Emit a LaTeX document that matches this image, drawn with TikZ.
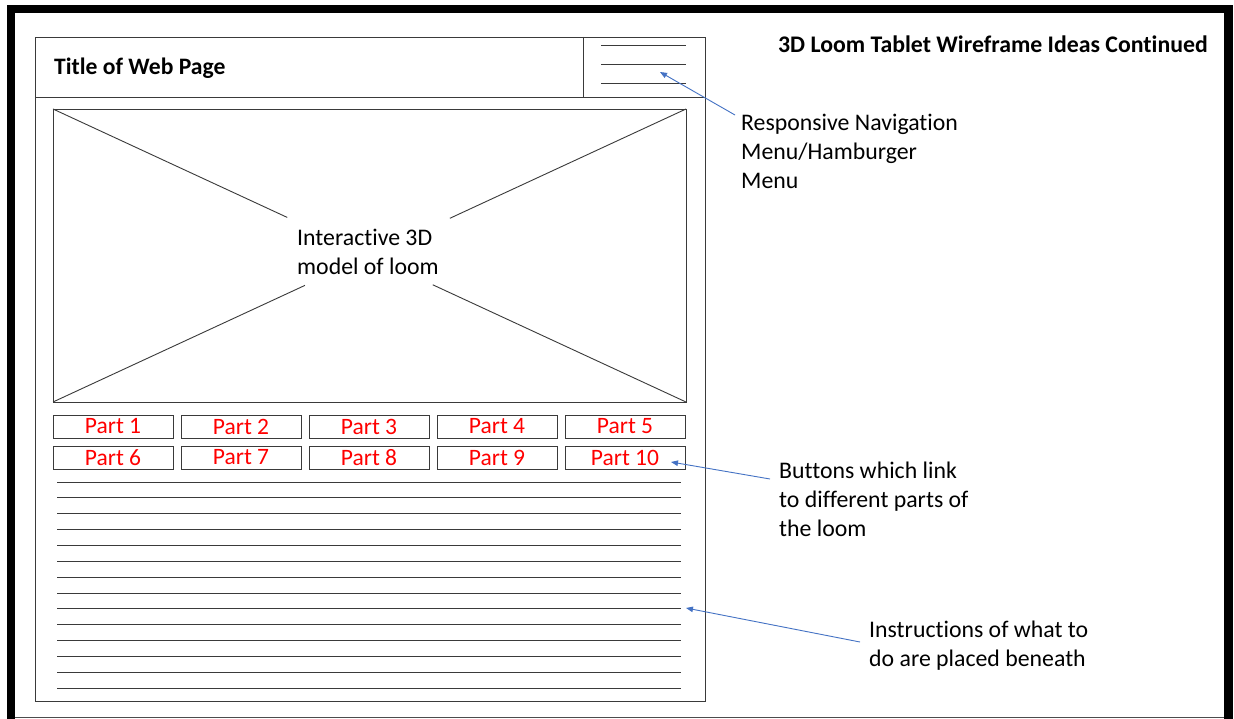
\documentclass[tikz,border=0pt]{standalone}
\usepackage{fontspec}
\setmainfont{Carlito}[Ligatures=NoCommon]
\usetikzlibrary{arrows.meta,calc}
\definecolor{wire}{HTML}{3A3A3A}
\definecolor{callout}{HTML}{4472C4}
\definecolor{partred}{HTML}{FF0000}
\begin{document}
\begin{tikzpicture}[x=1pt,y=-1pt,
  wireline/.style={draw=wire,line width=0.9pt},
  partbtn/.style={draw=wire,line width=0.9pt,minimum width=120pt,minimum height=23pt,
    inner sep=0pt,text=partred,font=\fontsize{23.5}{26}\selectfont},
  note/.style={align=left,anchor=north west,inner sep=0pt,font=\fontsize{23.8}{29}\selectfont},
  pointer/.style={draw=callout,line width=0.9pt,-{Triangle[length=7pt,width=5.5pt]}}]
\useasboundingbox (0,0) rectangle (1234,719);
\fill[white] (0,0) rectangle (1234,719);
% dark screen frame
\fill[black] (7,5) rectangle (1233,13);
\fill[black] (7,5) rectangle (15,719);
\fill[black] (1224,5) rectangle (1233,719);
\draw[black!70,line width=1pt] (15,717) -- (1224,717);

% page outline and header
\draw[wireline] (35,37) rectangle (705,701);
\draw[wireline] (35,97) -- (705,97);
\draw[wireline] (583,37) -- (583,97);
\node[anchor=west,inner sep=0pt,font=\fontsize{23.6}{26}\selectfont\bfseries] (title) at (54,68) {Title of Web Page};
\foreach \y in {45,64,83} \draw[wireline] (601,\y) -- (686,\y);
\coordinate (burger) at (660,72);

% 3D model placeholder
\coordinate (tl) at (53,109);
\coordinate (tr) at (686,109);
\coordinate (bl) at (53,402);
\coordinate (br) at (686,402);
\draw[wireline] (tl) rectangle (br);
\draw[wireline] (tl) -- ($(tl)!0.37!(br)$);
\draw[wireline] (tr) -- ($(tr)!0.373!(bl)$);
\draw[wireline] (bl) -- ($(bl)!0.398!(tr)$);
\draw[wireline] (br) -- ($(br)!0.40!(tl)$);
\node[align=left,anchor=west,inner sep=0pt,font=\fontsize{23.8}{29}\selectfont] (model) at (297,252) {Interactive 3D\\model of loom};

% part buttons
\foreach \i in {1,...,5} {
  \node[partbtn] (p\i) at ({113+128*(\i-1)},426.5) {Part \i};
}
\foreach \i in {6,...,10} {
  \node[partbtn] (p\i) at ({113+128*(\i-6)},457.5) {Part \i};
}
\coordinate (ptip) at (671,462);

% instruction text lines
\foreach \k in {0,...,13} \draw[wireline] (57,{482+15.85*\k}) -- (681,{482+15.85*\k});
\coordinate (itip) at (686,608);

% annotations
\node[font=\fontsize{23.8}{26}\selectfont\bfseries,anchor=east,inner sep=0pt] (heading) at (1208,44) {3D Loom Tablet Wireframe Ideas Continued};
\node[note] (nav) at (741,114) {Responsive Navigation\\Menu/Hamburger\\Menu};
\node[note] (btns) at (779,462) {Buttons which link\\to different parts of\\the loom};
\node[note] (instr) at (869,621) {Instructions of what to\\do are placed beneath};
\draw[pointer] ($(nav.north west)+(-6,1)$) -- (burger);
\draw[pointer] ($(btns.north west)+(-9,17)$) -- (ptip);
\draw[pointer] ($(instr.north west)+(-9,21)$) -- (itip);
\end{tikzpicture}
\end{document}
